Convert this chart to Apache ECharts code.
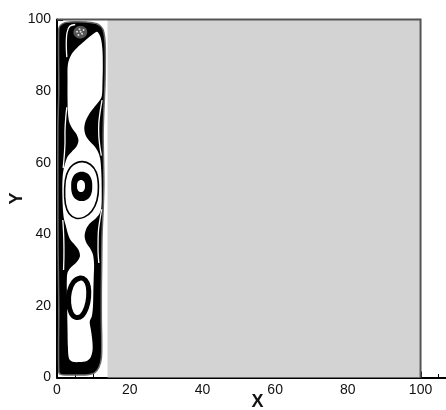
<!DOCTYPE html>
<html><head><meta charset="utf-8">
<script src="https://cdn.jsdelivr.net/npm/echarts@6/dist/echarts.min.js"></script>
<style>html,body{margin:0;padding:0;background:#fff}#c{width:446px;height:410px}</style>
</head><body><div id="c"></div>
<script>
// tick labels
const xTicks = [0, 20, 40, 60, 80, 100];
const xMinorTicks = [5, 10, 15, 25, 30, 35, 45, 50, 55, 65, 70, 75, 85, 90, 95, 105];
const yTicks = [0, 20, 40, 60, 80, 100];
// shaded (solid) region
const shadeX = [13.9, 100];
const shadeY = [0, 100];
const frameLine = [[0, 100], [100, 100], [100, 0]];
// outer edge of the streamline envelope
const envelopeOuter = [[0.5,1.5],[1.2,0.8],[3,0.7],[6,0.7],[8.5,0.8],[10.3,1.3],[11.5,2.8],[12.2,5.5],[12.3,10],[12.2,16],[12.2,24],[12.3,32],[12.4,40],[12.7,47],[12.9,54],[12.8,61],[12.7,68],[12.9,75],[13.2,82],[13.3,89],[13.2,94],[12.6,97.3],[11,98.8],[8,99.3],[5,99.4],[2.5,99.2],[1.2,98.6],[0.5,97.5],[0.5,80],[0.25,70],[0.25,50],[0.3,35],[0.5,20]];
// inner (open) region of the envelope with the two necks
const envelopeInner = [[11.0,96.6],[12.0,95.0],[12.5,91.5],[12.6,87],[12.5,82],[12.3,78.5],[11.3,76.8],[10.1,75.3],[8.9,73.7],[7.9,71.7],[7.5,69.6],[7.9,67.6],[9.0,66.0],[10.3,64.6],[11.3,63.0],[11.9,61.0],[12.2,57],[12.3,52],[12.2,47.5],[11.6,45.6],[10.4,44.2],[9.0,43.0],[8.0,41.4],[7.6,39.4],[8.1,37.6],[9.1,36.1],[9.9,34.3],[10.2,31.5],[10.1,28],[10.0,24],[9.9,20],[9.6,17.2],[9.0,15.6],[9.3,13.5],[9.7,10.5],[9.8,7.8],[9.3,5.7],[8.2,4.6],[6.2,4.3],[4.3,4.4],[3.3,5.3],[3.0,8.5],[2.9,13],[2.8,19],[2.7,25],[2.7,27],[2.9,29.3],[3.8,30.7],[5.3,32.1],[6.3,33.8],[6.0,35.5],[4.9,37.0],[3.6,38.6],[2.9,40.5],[2.4,42.5],[1.8,45],[1.5,50],[1.5,55],[1.8,58],[2.8,61.5],[4.0,63.0],[5.4,64.6],[5.9,66.2],[5.4,67.9],[4.3,69.4],[3.4,71.2],[3.0,74],[2.9,78],[2.9,83],[3.0,87.5],[4.0,90.3],[5.6,92.2],[7.6,94.0],[9.5,95.6]];
// thin gaps between neighbouring streamlines
const sliverLeftUpper = [[1.7,58.5],[2.0,62],[2.2,65.5],[2.2,69],[2.4,72.5],[2.7,75.5]];
const sliverRightUpper = [[12.4,77.5],[11.9,74.5],[11.5,71],[11.5,67.5],[11.8,64.5],[12.2,62]];
const sliverLeftLower = [[1.6,44],[1.8,40.5],[1.9,37],[1.9,33.5],[1.8,30]];
const sliverRightLower = [[12.3,47],[11.8,44],[11.4,41],[11.3,38],[11.3,35],[11.5,32]];
const sliverTopHook = [[2.7,89.5],[2.55,93],[2.75,96.3],[3.5,98.1],[5,98.6]];
// middle vortex
const midRingOuter = [[6.8,57.5],[8.4,57.0],[9.4,55.6],[9.7,53.4],[9.4,51.2],[8.4,49.8],[6.8,49.3],[5.2,49.8],[4.2,51.2],[3.9,53.4],[4.2,55.6],[5.2,57.0]];
const midRingHole = [[6.6,55.2],[7.4,54.75],[7.7,53.5],[7.4,52.25],[6.6,51.8],[5.8,52.25],[5.5,53.5],[5.8,54.75]];
const midLoop = [[6.9,60.3],[9.2,59.5],[10.8,57.3],[11.4,53.5],[11.0,49.5],[9.6,46.5],[7.5,44.8],[5.2,44.5],[3.3,45.8],[2.3,48.5],[2.1,52.5],[2.6,56.5],[4.3,59.3]];
// lower vortex
const lowRing = [[6.4,27.8],[7.8,27.2],[8.6,25.4],[8.7,22.5],[8.1,19.5],[6.8,17.2],[5.2,16.8],[3.9,18.0],[3.2,20.8],[3.4,24.0],[4.5,26.6]];
// top corner vortex
const topBlob = [[4.5,96.5],[5.2,97.8],[6.6,98.2],[7.9,97.6],[8.3,96.3],[7.6,95.1],[6.2,94.7],[4.9,95.4]];
const topSpecks = [[5.5,96.6],[6.2,97.3],[6.9,96.0],[5.9,95.7],[7.3,97.1],[6.5,96.6]];

function shapeSeries(points, kind, style, smooth) {
  return {
    type: 'custom', coordinateSystem: 'cartesian2d', silent: true,
    data: [points[0]],
    renderItem: function (params, api) {
      return {
        type: kind,
        shape: { points: points.map(function (p) { return api.coord(p); }), smooth: smooth },
        style: style
      };
    }
  };
}

const series = [
  {
    type: 'custom', coordinateSystem: 'cartesian2d', silent: true,
    data: [[shadeX[0], shadeY[0], shadeX[1], shadeY[1]]],
    renderItem: function (params, api) {
      const a = api.coord([api.value(0), api.value(1)]);
      const b = api.coord([api.value(2), api.value(3)]);
      return { type: 'rect', shape: { x: a[0], y: b[1], width: b[0] - a[0], height: a[1] - b[1] }, style: { fill: '#d3d3d3' } };
    }
  },
  shapeSeries(envelopeOuter, 'polygon', { fill: '#000', stroke: '#666', lineWidth: 1.5 }, 0.3),
  shapeSeries(envelopeInner, 'polygon', { fill: '#fff' }, 0.3),
  shapeSeries(sliverLeftUpper, 'polyline', { fill: null, stroke: '#fff', lineWidth: 1.3 }, 0.3),
  shapeSeries(sliverRightUpper, 'polyline', { fill: null, stroke: '#fff', lineWidth: 1.3 }, 0.3),
  shapeSeries(sliverLeftLower, 'polyline', { fill: null, stroke: '#fff', lineWidth: 1.3 }, 0.3),
  shapeSeries(sliverRightLower, 'polyline', { fill: null, stroke: '#fff', lineWidth: 1.3 }, 0.3),
  shapeSeries(sliverTopHook, 'polyline', { fill: null, stroke: '#fff', lineWidth: 1.3 }, 0.3),
  shapeSeries(topBlob, 'polygon', { fill: '#555' }, 0.4),
  {
    type: 'scatter', data: topSpecks, symbolSize: 2, silent: true,
    itemStyle: { color: '#fff' }
  },
  shapeSeries(midLoop, 'polygon', { fill: 'none', stroke: '#000', lineWidth: 1.6 }, 0.4),
  shapeSeries(midRingOuter, 'polygon', { fill: '#000' }, 0.4),
  shapeSeries(midRingHole, 'polygon', { fill: '#fff' }, 0.4),
  shapeSeries(lowRing, 'polygon', { fill: 'none', stroke: '#000', lineWidth: 5 }, 0.4),
  {
    type: 'custom', coordinateSystem: 'cartesian2d', silent: true,
    data: [frameLine[0]],
    renderItem: function (params, api) {
      return { type: 'polyline', shape: { points: frameLine.map(function (p) { return api.coord(p); }) }, style: { fill: null, stroke: '#555', lineWidth: 2 } };
    }
  }
];

const labelFont = { fontSize: 14, color: '#111', fontFamily: 'Liberation Sans, Arial, sans-serif' };
const chart = echarts.init(document.getElementById('c'), null, { renderer: 'canvas' });
chart.setOption({
  animation: false,
  backgroundColor: '#fff',
  grid: { left: 57, right: 0, top: 19.5, bottom: 32.5, containLabel: false, outerBoundsMode: 'none' },
  xAxis: [
    {
      type: 'value', min: 0, max: 107, position: 'bottom',
      axisLine: { show: true, onZero: false, lineStyle: { color: '#000', width: 2 } },
      axisTick: { show: true, inside: true, length: 6, customValues: xTicks, lineStyle: { color: '#000', width: 2 } },
      axisLabel: Object.assign({ customValues: xTicks, margin: 6 }, labelFont),
      splitLine: { show: false },
      name: 'X', nameLocation: 'middle', nameGap: 16, nameMoveOverlap: false,
      nameTextStyle: { fontSize: 18, fontWeight: 'bold', color: '#111', fontFamily: 'Liberation Sans, Arial, sans-serif', padding: [0, 0, 0, 12] }
    },
    {
      type: 'value', min: 0, max: 107, position: 'bottom',
      axisLine: { show: false },
      axisTick: { show: true, inside: true, length: 3.5, customValues: xMinorTicks, lineStyle: { color: '#000', width: 1 } },
      axisLabel: { show: false },
      splitLine: { show: false }
    }
  ],
  yAxis: {
    type: 'value', min: 0, max: 100, interval: 20,
    axisLine: { show: true, onZero: false, lineStyle: { color: '#000', width: 2 } },
    axisTick: { show: true, inside: true, length: 6, lineStyle: { color: '#000', width: 2 } },
    minorTick: { show: true, splitNumber: 4, length: 3.5, lineStyle: { color: '#000', width: 1 } },
    axisLabel: Object.assign({ margin: 6 }, labelFont),
    splitLine: { show: false },
    name: 'Y', nameLocation: 'middle', nameGap: 31, nameMoveOverlap: false,
    nameTextStyle: { fontSize: 18, fontWeight: 'bold', color: '#111', fontFamily: 'Liberation Sans, Arial, sans-serif' }
  },
  series: series
});
</script>
</body></html>
